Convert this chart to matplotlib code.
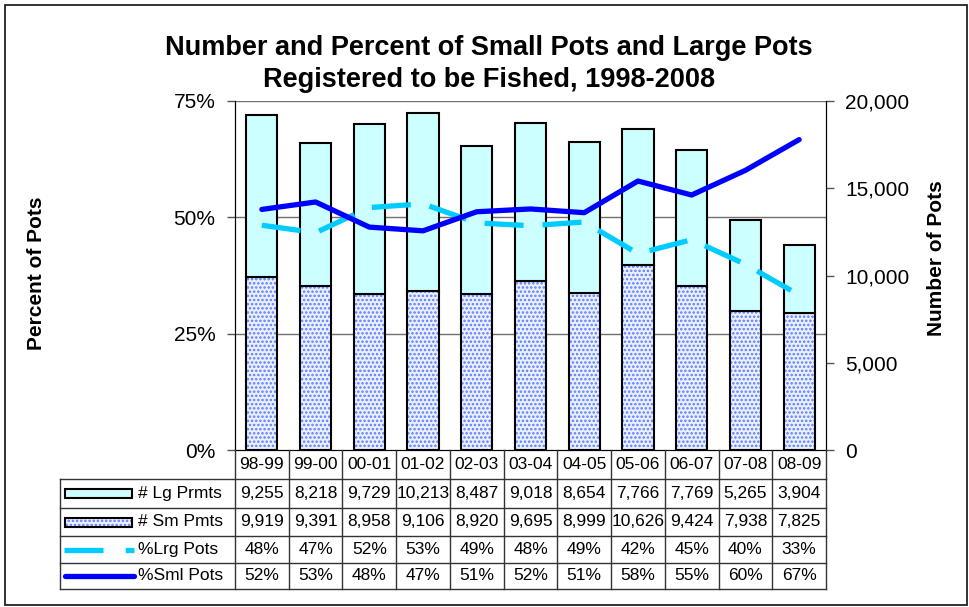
import numpy as np
import matplotlib as mpl
mpl.use('Agg')
from matplotlib import pyplot as plt
from matplotlib import transforms
from matplotlib.patches import Rectangle
from matplotlib.lines import Line2D
from matplotlib.ticker import FuncFormatter

plt.rcParams['font.family'] = ['Liberation Sans', 'DejaVu Sans']

seasons = ['98-99', '99-00', '00-01', '01-02', '02-03', '03-04',
           '04-05', '05-06', '06-07', '07-08', '08-09']
lg_permits = [9255, 8218, 9729, 10213, 8487, 9018, 8654, 7766, 7769, 5265, 3904]
sm_permits = [9919, 9391, 8958, 9106, 8920, 9695, 8999, 10626, 9424, 7938, 7825]
# percent of pots
pct_lrg = [48.3, 46.7, 52.1, 52.9, 48.8, 48.2, 49.0, 42.2, 45.2, 39.9, 33.3]
pct_sml = [51.7, 53.3, 47.9, 47.1, 51.2, 51.8, 51.0, 57.8, 54.8, 60.1, 66.7]
pct_ticks = [0, 25, 50, 75]
count_ticks = [0, 5000, 10000, 15000, 20000]

LG_COLOR = '#CCFFFF'
SM_FACE = '#EBF0FF'
SM_DOTS = '#5C7CFF'
LRG_LINE = '#00CCFF'
SML_LINE = '#0000FF'

W, H = 969, 607
def fx(px):
    return px / W
def fy(py):
    return 1 - py / H

plt.rcParams['hatch.linewidth'] = 1.2

fig = plt.figure(figsize=(W / 100, H / 100), dpi=100)
fig.patch.set_facecolor('white')

# chart frame
fig.patches.append(Rectangle((fx(5), fy(605)), fx(962), 600 / H, transform=fig.transFigure,
                             fill=False, edgecolor='#222222', linewidth=1.3))

ax = fig.add_axes([fx(235), fy(450), fx(826) - fx(235), (450 - 101) / H])
ax2 = ax.twinx()

x = np.arange(len(seasons))
bw = 0.58

# bars (counts) on ax, right-hand scale
ax.bar(x, sm_permits, bw, color=SM_FACE, edgecolor=SM_DOTS, linewidth=0, hatch='....', zorder=2)
ax.bar(x, sm_permits, bw, fill=False, edgecolor='black', linewidth=1.5, zorder=3)
ax.bar(x, lg_permits, bw, bottom=sm_permits, color=LG_COLOR, edgecolor='black',
       linewidth=1.5, zorder=3)
ax.set_ylim(0, 20000)
ax.set_xlim(-0.5, len(seasons) - 0.5)
ax.set_yticks(count_ticks)
ax.yaxis.set_major_formatter(FuncFormatter(lambda v, p: f'{v:,.0f}'))
ax.yaxis.tick_right()
ax.set_xticks([])

# lines (percent) on ax2, left-hand scale
ax2.plot(x, pct_lrg, color=LRG_LINE, linewidth=3.8, linestyle=(0, (7.4, 3.6)),
         dash_capstyle='butt', zorder=4)
ax2.plot(x, pct_sml, color=SML_LINE, linewidth=3.8, solid_capstyle='round',
         solid_joinstyle='round', zorder=5)
ax2.set_ylim(0, 75)
ax2.set_yticks(pct_ticks)
ax2.yaxis.set_major_formatter(FuncFormatter(lambda v, p: f'{v:.0f}%'))
ax2.yaxis.tick_left()
ax2.set_xticks([])

# gridlines behind the bars, placed with the percent scale
grid_tr = transforms.blended_transform_factory(ax.transAxes, ax2.transData)
for v in pct_ticks[1:]:
    ax.plot([0, 1], [v, v], transform=grid_tr, color='#707070', linewidth=1.0, zorder=1)

for a in (ax, ax2):
    a.tick_params(axis='y', direction='out', length=6, width=1, color='#555555',
                  labelsize=15, pad=8)
    a.spines['top'].set_visible(False)
    a.spines['left'].set_color('black')
    a.spines['right'].set_color('black')
    a.spines['bottom'].set_color('black')

fig.text(fx(489), fy(64), 'Number and Percent of Small Pots and Large Pots\n'
         'Registered to be Fished, 1998-2008', ha='center', va='center',
         fontsize=19.5, fontweight='bold', linespacing=1.3)
fig.text(fx(37), fy(273), 'Percent of Pots', rotation=90, ha='center', va='center',
         fontsize=15, fontweight='bold')
fig.text(fx(937), fy(258), 'Number of Pots', rotation=90, ha='center', va='center',
         fontsize=15, fontweight='bold')

# data table under the axes
row_y = [450, 479, 508, 536, 563, 589]
tab_left = fx(60)
tab_right = ax.get_position().x1
col_tr = transforms.blended_transform_factory(ax.transData, fig.transFigure)
line_kw = dict(color='#333333', linewidth=1.0)

for i in range(len(seasons) + 1):
    fig.lines.append(Line2D([i - 0.5, i - 0.5], [fy(row_y[0]), fy(row_y[-1])],
                            transform=col_tr, **line_kw))
for yy in row_y[1:]:
    fig.lines.append(Line2D([tab_left, tab_right], [fy(yy), fy(yy)],
                            transform=fig.transFigure, **line_kw))
fig.lines.append(Line2D([tab_left, tab_left], [fy(row_y[1]), fy(row_y[-1])],
                        transform=fig.transFigure, **line_kw))

rows = [
    [f'{v:,}' for v in lg_permits],
    [f'{v:,}' for v in sm_permits],
    [f'{v:.0f}%' for v in pct_lrg],
    [f'{v:.0f}%' for v in pct_sml],
]
row_names = ['# Lg Prmts', '# Sm Pmts', '%Lrg Pots', '%Sml Pots']

def mid(r):
    return fy((row_y[r] + row_y[r + 1]) / 2)

for i, s in enumerate(seasons):
    fig.text(i, mid(0), s, transform=col_tr, ha='center', va='center', fontsize=12.5)
for r, vals in enumerate(rows):
    for i, s in enumerate(vals):
        fig.text(i, mid(r + 1), s, transform=col_tr, ha='center', va='center', fontsize=12.5)
    fig.text(fx(138), mid(r + 1), row_names[r], ha='left', va='center', fontsize=12.5)

# legend keys in the row label cells
kh = 9 / H
fig.patches.append(Rectangle((fx(65), mid(1) - kh / 2), fx(67), kh, transform=fig.transFigure,
                             facecolor=LG_COLOR, edgecolor='black', linewidth=1.5))
fig.patches.append(Rectangle((fx(65), mid(2) - kh / 2), fx(67), kh, transform=fig.transFigure,
                             facecolor=SM_FACE, edgecolor=SM_DOTS, linewidth=0, hatch='....'))
fig.patches.append(Rectangle((fx(65), mid(2) - kh / 2), fx(67), kh, transform=fig.transFigure,
                             fill=False, edgecolor='black', linewidth=1.5))
fig.lines.append(Line2D([fx(64), fx(134)], [mid(3), mid(3)], transform=fig.transFigure,
                        color=LRG_LINE, linewidth=3.8, linestyle=(0, (7.4, 4.2)),
                        dash_capstyle='butt'))
fig.lines.append(Line2D([fx(65), fx(134)], [mid(4), mid(4)], transform=fig.transFigure,
                        color=SML_LINE, linewidth=3.8, solid_capstyle='round'))

fig.savefig('out.png', dpi=100, facecolor='white')
